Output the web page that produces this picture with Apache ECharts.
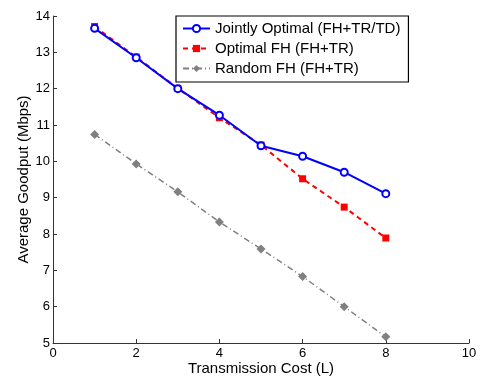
<!DOCTYPE html>
<html><head><meta charset="utf-8">
<script src="https://cdn.jsdelivr.net/npm/echarts@6/dist/echarts.min.js"></script>
<style>html,body{margin:0;padding:0;background:#fff}#c{width:492px;height:377px}</style>
</head><body><div id="c"></div>
<script>
const xVals = [1, 2, 3, 4, 5, 6, 7, 8];
const jointlyOptimal = [13.66, 12.85, 12.00, 11.27, 10.43, 10.14, 9.70, 9.11];
const optimalFH = [13.71, 12.87, 12.01, 11.20, 10.45, 9.52, 8.74, 7.89];
const randomFH = [10.74, 9.93, 9.16, 8.33, 7.59, 6.83, 6.00, 5.17];
const names = ['Jointly Optimal (FH+TR/TD)', 'Optimal FH (FH+TR)', 'Random FH (FH+TR)'];

const pair = arr => xVals.map((x, i) => [x, arr[i]]);
const font = 'Liberation Sans, Arial, sans-serif';
const chart = echarts.init(document.getElementById('c'), null, {renderer: 'canvas'});
chart.setOption({
  animation: false,
  grid: {left: 53, right: 23, top: 16, bottom: 34, containLabel: false, outerBoundsMode: 'none'},
  xAxis: {
    type: 'value', min: 0, max: 10, interval: 2,
    name: 'Transmission Cost (L)', nameLocation: 'middle', nameGap: 18, nameMoveOverlap: false,
    nameTextStyle: {fontFamily: font, fontSize: 15, color: '#000'},
    axisLine: {lineStyle: {color: '#333', width: 1}},
    axisTick: {inside: true, length: 4, lineStyle: {color: '#333'}},
    axisLabel: {fontFamily: font, fontSize: 13, color: '#000', margin: 4},
    splitLine: {show: false}
  },
  yAxis: {
    type: 'value', min: 5, max: 14, interval: 1,
    name: 'Average Goodput (Mbps)', nameLocation: 'middle', nameGap: 22, nameMoveOverlap: false,
    nameTextStyle: {fontFamily: font, fontSize: 15, color: '#000'},
    axisLine: {show: true, lineStyle: {color: '#333', width: 1}},
    axisTick: {show: true, inside: true, length: 4, lineStyle: {color: '#333'}},
    axisLabel: {fontFamily: font, fontSize: 13, color: '#000', margin: 3},
    splitLine: {show: false}
  },
  legend: {
    orient: 'vertical', left: 176, top: 16,
    backgroundColor: '#fff', borderColor: '#000', borderWidth: 1.2, borderRadius: 0,
    padding: [5, 8, 6, 6], itemGap: 5, itemWidth: 27, itemHeight: 9,
    textStyle: {fontFamily: font, fontSize: 15, color: '#000'},
    data: names
  },
  series: [
    {name: names[0], type: 'line', data: pair(jointlyOptimal),
     symbol: 'circle', symbolSize: 7, color: '#0000ff',
     lineStyle: {color: '#0000ff', width: 2},
     itemStyle: {color: '#fff', borderColor: '#0000ff', borderWidth: 2}, z: 3},
    {name: names[1], type: 'line', data: pair(optimalFH),
     symbol: 'rect', symbolSize: 7, color: '#ff0000',
     lineStyle: {color: '#ff0000', width: 2, type: [5, 4]},
     itemStyle: {color: '#ff0000'}, z: 2},
    {name: names[2], type: 'line', data: pair(randomFH),
     symbol: 'diamond', symbolSize: 9, color: '#808080',
     lineStyle: {color: '#808080', width: 1.5, type: [6, 3, 1, 3]},
     itemStyle: {color: '#808080'}, z: 1}
  ]
});
</script></body></html>
